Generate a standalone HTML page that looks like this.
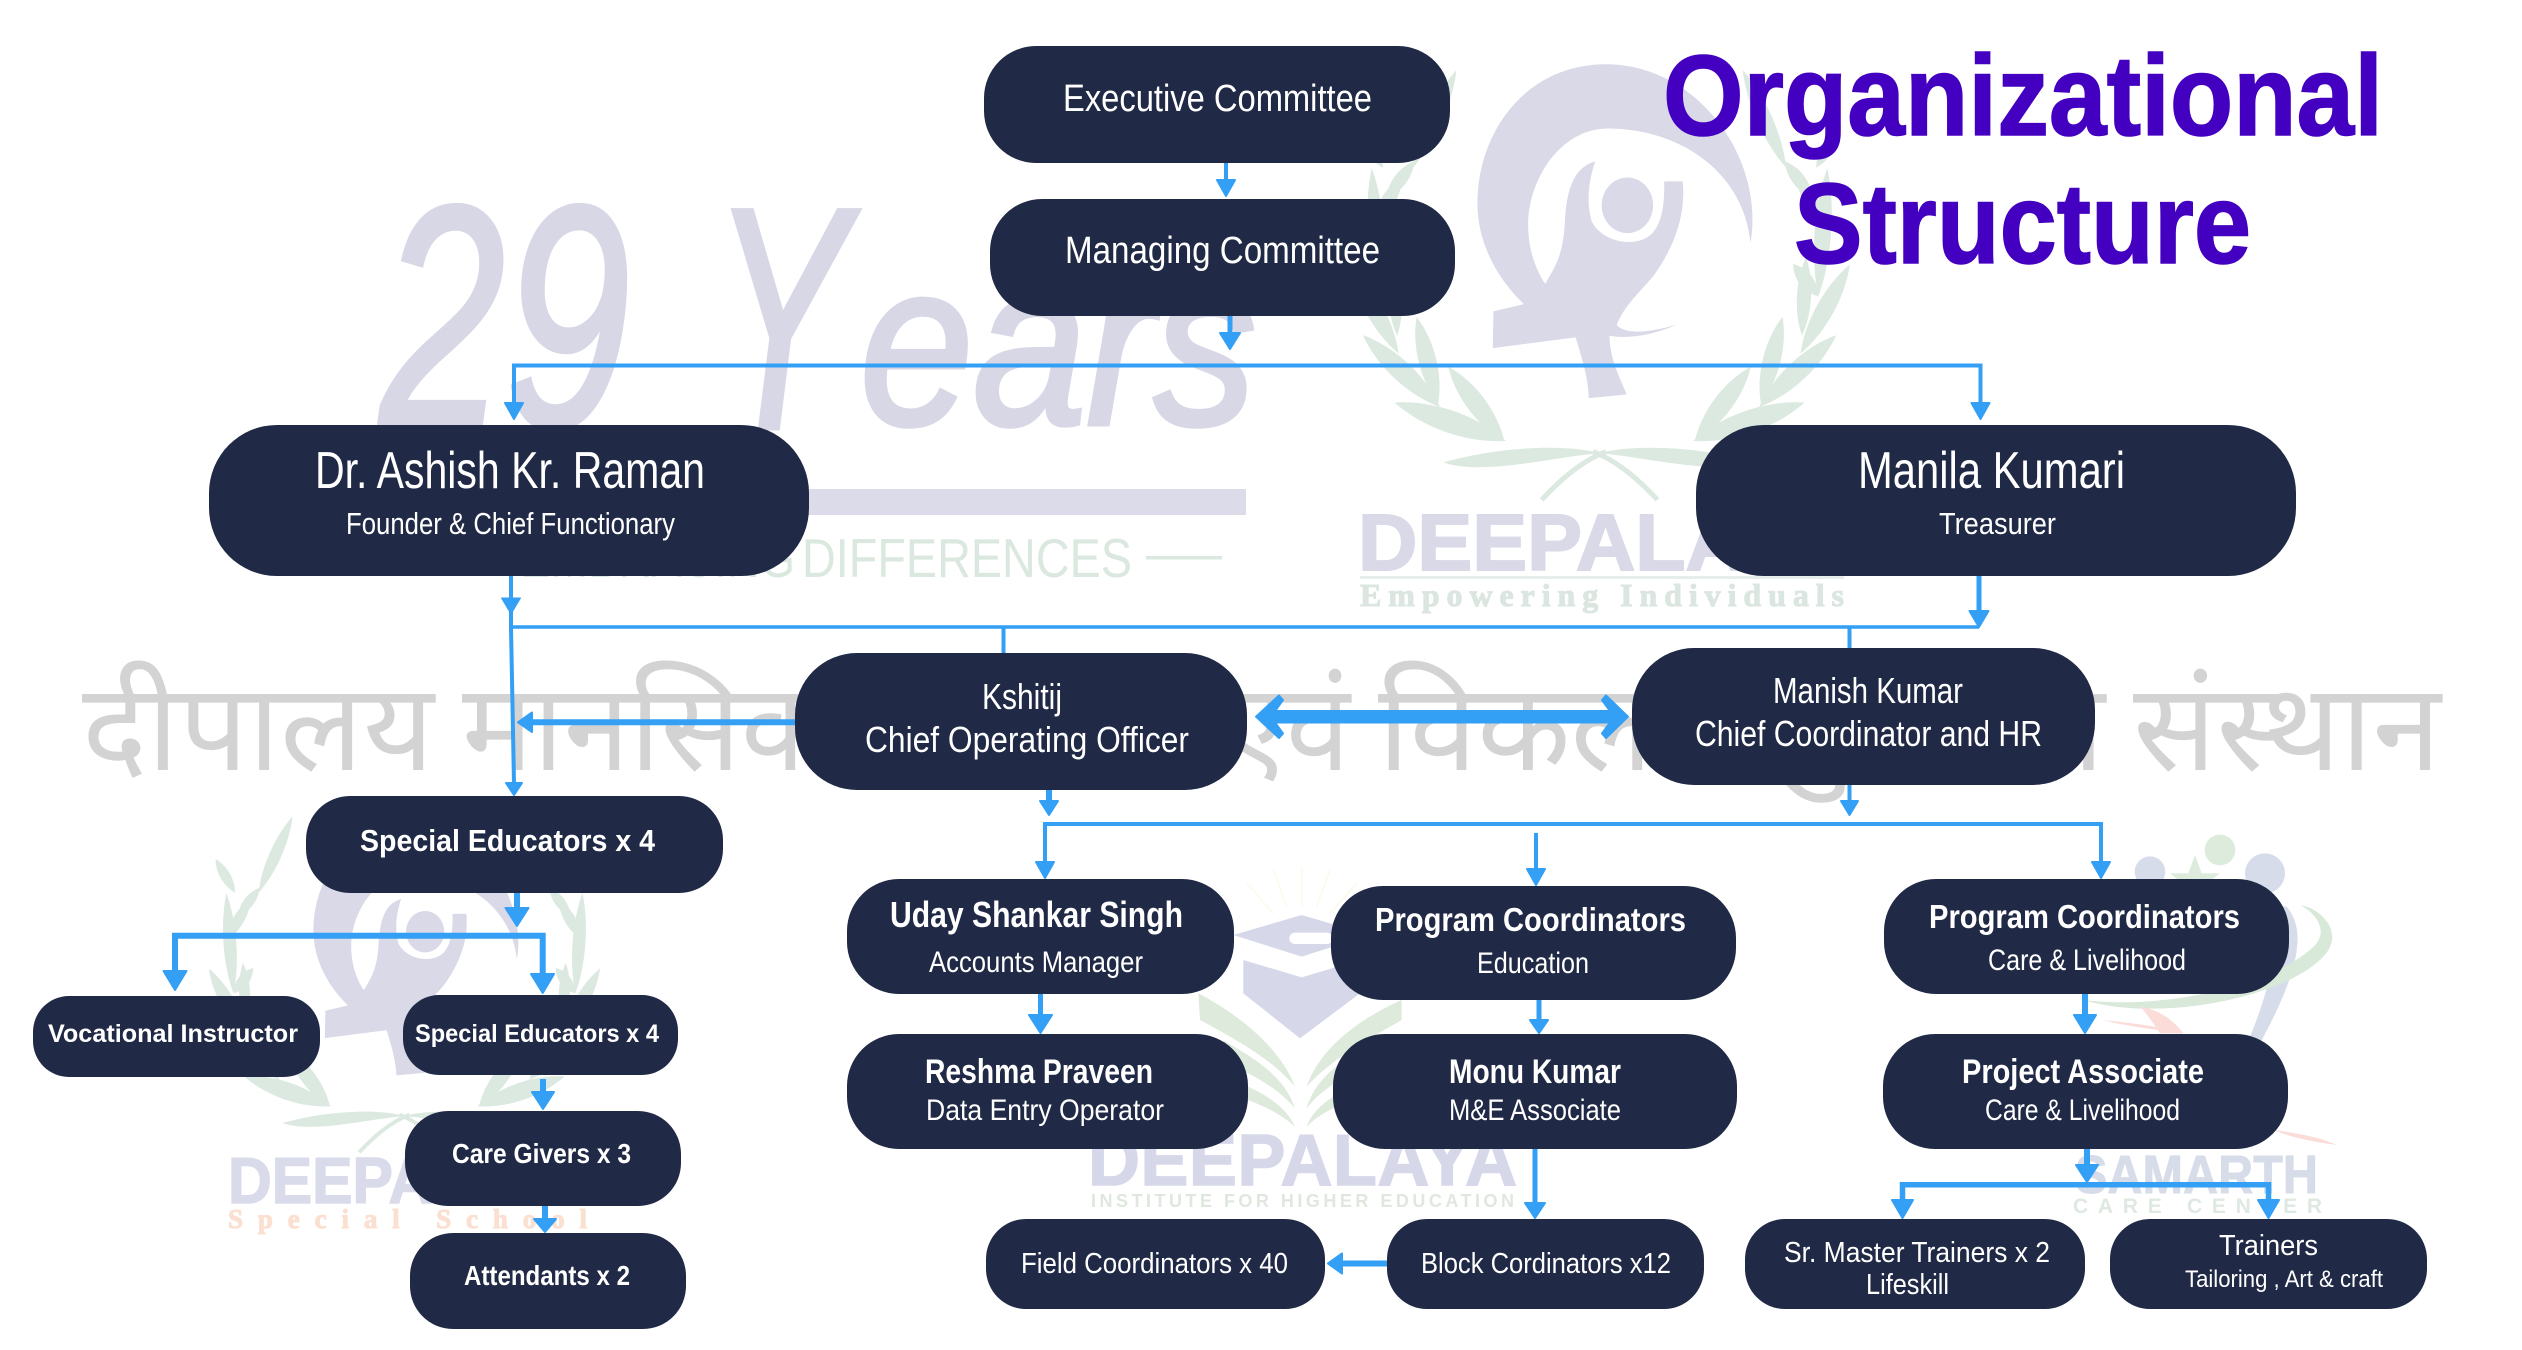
<!DOCTYPE html>
<html><head><meta charset="utf-8"><title>Organizational Structure</title>
<style>
html,body{margin:0;padding:0;background:#fff;width:2522px;height:1350px;overflow:hidden}
svg{display:block}
text{font-family:"Liberation Sans",sans-serif;fill:#fff}
.b{font-weight:700}
.n{fill:#202945}
.l{fill:none;stroke:#339ff5;stroke-width:4}
.h{fill:#339ff5;stroke:#339ff5;stroke-width:2;stroke-linejoin:round}
.lav{fill:#d9d9e8}
.grn{fill:#dbe9e0}
.hin{font-family:"Liberation Sans","Noto Sans Devanagari","Lohit Devanagari","Noto Sans CJK SC",sans-serif;fill:#d3d3d3;font-size:122px}
.yr{font-style:italic;fill:#d8d7e6;stroke:#d8d7e6;stroke-width:5}
</style></head><body>
<svg width="2522" height="1350" viewBox="0 0 2522 1350" xmlns="http://www.w3.org/2000/svg">
<defs>
<path id="lf" d="M0 0C-22-30-22-70 0-100C22-70 22-30 0 0Z"/>
<g id="ribbon">
<path class="lav" d="M1150 540C1190 300 1000 40 745 40C520 40 385 230 385 430C385 540 440 640 515 712L430 732L428 835L660 805C680 870 695 920 697 975L803 965C780 910 755 860 755 800C800 810 880 800 945 768C880 790 800 800 775 770C800 710 840 680 880 630C930 560 970 470 960 368L908 368C910 440 900 510 850 530C800 550 730 530 705 480C690 430 695 370 715 312C650 330 635 400 630 480C625 580 600 610 575 655C550 620 527 560 527 490C527 360 620 220 750 220C950 220 1130 340 1150 540Z"/>
<ellipse class="lav" cx="805" cy="435" rx="72" ry="78"/>
</g>
<g id="halfwreath" class="grn">
<use href="#lf" transform="translate(465 1095) rotate(-71) scale(1.9 3.3)"/>
<use href="#lf" transform="translate(460 1095) rotate(-37) scale(1.6 2.6)"/>
<use href="#lf" transform="translate(280 1000) rotate(-47) scale(1.7 2.95)"/>
<use href="#lf" transform="translate(275 990) rotate(-14) scale(1.5 2.5)"/>
<use href="#lf" transform="translate(164 850) rotate(-29) scale(1.5 2.85)"/>
<use href="#lf" transform="translate(160 800) rotate(-3) scale(1.2 2.2)"/>
<use href="#lf" transform="translate(114 690) rotate(-4) scale(1.4 3.6)"/>
<use href="#lf" transform="translate(114 690) rotate(38) scale(1.2 1.15)"/>
<use href="#lf" transform="translate(130 415) rotate(37) scale(1.1 1.3)"/>
<use href="#lf" transform="translate(204 330) rotate(24) scale(1.3 3)"/>
<use href="#lf" transform="translate(120 330) rotate(-30) scale(1.1 1.4)"/>
<use href="#lf" transform="translate(90 500) rotate(30) scale(1.2 1.7)"/>
<path d="M290 1155C400 1195 620 1135 730 1130C620 1100 430 1115 290 1155Z"/>
<path d="M565 1260C620 1200 680 1150 745 1125" fill="none" stroke="#dbe9e0" stroke-width="14"/>
</g>
<g id="wreath">
<use href="#halfwreath"/>
<use href="#halfwreath" transform="translate(1454 0) scale(-1 1)"/>
</g>
</defs>

<!-- watermarks -->
<text class="yr" font-size="316"><tspan x="380" y="426" textLength="250" lengthAdjust="spacingAndGlyphs">29</tspan> <tspan x="712" y="428" textLength="135" lengthAdjust="spacingAndGlyphs">Y</tspan><tspan x="860" y="424" font-size="232" textLength="396" lengthAdjust="spacingAndGlyphs">ears</tspan></text>
<rect x="804" y="489" width="442" height="26" fill="#dcdbe9"/>
<text x="802" y="577" font-size="55" textLength="330" lengthAdjust="spacingAndGlyphs" style="fill:#dbe8df">DIFFERENCES</text>
<text x="520" y="577" font-size="55" textLength="275" lengthAdjust="spacingAndGlyphs" style="fill:#dbe8df">EMBRACING</text>
<rect x="1146" y="556" width="76" height="3.5" fill="#dbe8df"/>

<use href="#wreath" transform="translate(1340 50) scale(.357)"/>
<use href="#ribbon" transform="translate(1340 50) scale(.357)"/>
<text x="1358" y="570" font-size="80" class="b" textLength="486" lengthAdjust="spacingAndGlyphs" style="fill:#d9d9e8;stroke:#d9d9e8;stroke-width:2">DEEPALAYA</text>
<rect x="1360" y="576" width="484" height="3" fill="#e6eeea"/>
<text x="1360" y="606" font-size="32" class="b" textLength="484" lengthAdjust="spacing" style='font-family:"Liberation Serif",serif;fill:#dbe6e0;stroke:#dbe6e0;stroke-width:1'>Empowering Individuals</text>

<text class="hin" x="82" y="770" textLength="352" lengthAdjust="spacingAndGlyphs">दीपालय</text>
<text class="hin" x="462" y="770" textLength="370" lengthAdjust="spacingAndGlyphs">मानसिक</text>
<text class="hin" x="1222" y="770" textLength="128" lengthAdjust="spacingAndGlyphs">एवं</text>
<text class="hin" x="1378" y="770" textLength="375" lengthAdjust="spacingAndGlyphs">विकलांग</text>
<text class="hin" x="1770" y="770" textLength="335" lengthAdjust="spacingAndGlyphs">पुनर्वास</text>
<text class="hin" x="2133" y="770" textLength="308" lengthAdjust="spacingAndGlyphs">संस्थान</text>

<use href="#wreath" transform="translate(201.6 800.8) scale(.279)"/>
<use href="#ribbon" transform="translate(211 816) scale(.266)"/>
<text x="228" y="1203" font-size="65" class="b" textLength="358" lengthAdjust="spacingAndGlyphs" style="fill:#dadbea;stroke:#dadbea;stroke-width:1.500">DEEPALAYA</text>
<text x="228" y="1228" font-size="27" class="b" textLength="359" lengthAdjust="spacing" style='font-family:"Liberation Serif",serif;fill:#fbe0d1;stroke:#fbe0d1;stroke-width:1'>Special School</text>

<!-- higher education logo -->
<g transform="translate(1180 860) scale(.3333)">
<g stroke="#fbfbea" stroke-width="5" fill="none"><path d="M365 140V20M320 140L280 30M410 140L450 30M280 160L200 70M450 160L530 70"/></g>
<path d="M160 225L365 165L570 225L365 290Z" fill="#d6d8ea"/>
<path d="M190 300L365 352L540 300V400L360 535L190 400Z" fill="#d6d8ea"/>
<rect x="328" y="218" width="130" height="34" rx="17" fill="#fff"/>
<path d="M55 400C170 460 300 560 345 680C280 600 170 540 60 480Z" fill="#deeadc"/>
<path d="M665 420C550 470 420 560 380 680C450 600 560 540 665 480Z" fill="#deeadc"/>
<path d="M130 540C210 590 310 640 345 745C290 680 210 640 140 610ZM130 650C210 680 310 720 345 800C290 750 210 720 140 700Z" fill="#deeadc"/>
<path d="M590 540C510 590 410 640 380 745C430 680 510 640 580 610ZM590 650C510 680 410 720 380 800C430 750 510 720 580 700Z" fill="#deeadc"/>
</g>
<text x="1088" y="1185" font-size="72" class="b" textLength="429" lengthAdjust="spacing" style="fill:#d6d8ea;stroke:#d6d8ea;stroke-width:1.500">DEEPALAYA</text>
<text x="1091" y="1207" font-size="18" class="b" textLength="423" lengthAdjust="spacing" style="fill:#dfe7de">INSTITUTE FOR HIGHER EDUCATION</text>

<!-- samarth logo -->
<g transform="translate(2060 830) scale(.3333)">
<circle cx="480" cy="60" r="46" fill="#dcebdc"/>
<path d="M405 75L425 130H480L435 165H375L330 130H385Z" fill="#dcebdc"/>
<circle cx="270" cy="125" r="46" fill="#d6dce9"/>
<circle cx="615" cy="130" r="60" fill="#d6dce9"/>
<path d="M680 230C740 300 720 420 600 640L570 620C620 500 660 360 640 230Z" fill="#d6dce9"/>
<path d="M720 225C800 240 850 320 790 380C680 500 300 580 70 510C300 540 650 470 770 340C800 300 770 250 720 225Z" fill="#d9e9d9"/>
<path d="M130 570C220 580 310 590 370 610C300 600 200 590 130 570ZM640 900C720 910 790 925 830 945C760 935 700 925 640 900Z" fill="#fbdcd8"/>
<path d="M240 530C300 540 340 570 370 610L300 610C280 580 260 550 240 530Z" fill="#fbdcd8"/>
</g>
<text x="2075" y="1193" font-size="54" class="b" textLength="243" lengthAdjust="spacingAndGlyphs" style="fill:#d7dce9;stroke:#d7dce9;stroke-width:1">SAMARTH</text>
<text x="2073" y="1213" font-size="21" class="b" textLength="249" lengthAdjust="spacing" style="fill:#dfe9e1">CARE CENTER</text>

<!-- title -->
<text x="1663" y="135" font-size="114" class="b" textLength="720" lengthAdjust="spacingAndGlyphs" style="fill:#4400c0;stroke:#4400c0;stroke-width:1.500">Organizational</text>
<text x="1794" y="263" font-size="114" class="b" textLength="457" lengthAdjust="spacingAndGlyphs" style="fill:#4400c0;stroke:#4400c0;stroke-width:1.500">Structure</text>

<!-- connectors -->
<path class="l" d="M1226 163V182"/><path class="h" d="M1217 180H1235L1226 196Z"/>
<path class="l" style="stroke-width:5" d="M1230 315V335"/><path class="h" d="M1220 333H1240L1230 349Z"/>
<path class="l" d="M514 405V365.5H1980.5V405"/>
<path class="h" d="M505 403H523L514 419Z"/><path class="h" d="M1971.500 403H1989.500L1980.5 419Z"/>
<path class="l" d="M511 575V627L514 784"/>
<path class="h" style="stroke-width:1" d="M501.500 598H520.500L511 614Z"/><path class="h" d="M506 783H522L514 795Z"/>
<path class="l" style="stroke-width:3.500" d="M511 627H1979"/>
<path class="l" style="stroke-width:5" d="M1979 575V612"/><path class="h" d="M1969.500 611H1988.500L1979 627Z"/>
<path class="l" d="M1003.500 627V655M1849.500 627V650"/>
<path class="l" style="stroke-width:6" d="M532 722.300H797"/><path class="h" d="M532 712.500V732L518 722.300Z"/>
<path class="h" d="M1256 716.700L1279 695.500L1283 700L1275 711H1610L1602 700L1606 695.500L1628 716.700L1606 738L1602 733.500L1610 722.500H1275L1283 733.500L1279 738Z"/>
<path class="l" style="stroke-width:6" d="M1049 789V802"/><path class="h" d="M1040 801H1058L1049 815Z"/>
<path class="l" style="stroke-width:4" d="M1849.500 785V802"/><path class="h" d="M1841 801H1858L1849.500 815Z"/>
<path class="l" d="M1045 865V824H2101V865"/>
<path class="h" d="M1036 862H1054L1045 878Z"/><path class="h" d="M2092 862H2110L2101 878Z"/>
<path class="l" d="M1536 833V870"/><path class="h" d="M1527 869H1545L1536 885Z"/>
<path class="l" style="stroke-width:6" d="M517 892V909"/><path class="h" d="M505.500 908H528.500L517 926Z"/>
<path class="l" style="stroke-width:6" d="M175 975V935.700H542.700V978"/>
<path class="h" d="M163.500 971H186.500L175 990Z"/><path class="h" d="M531 974H554L542.700 993Z"/>
<path class="l" style="stroke-width:6" d="M543 1079V1093"/><path class="h" d="M532 1092H554L543 1109Z"/>
<path class="l" style="stroke-width:6" d="M545 1206V1220"/><path class="h" d="M534 1219H556L545 1232Z"/>
<path class="l" style="stroke-width:5" d="M1040.500 993V1016"/><path class="h" d="M1029 1015H1052L1040.500 1033Z"/>
<path class="l" style="stroke-width:5" d="M1539 1000V1021"/><path class="h" d="M1530 1020H1548L1539 1033Z"/>
<path class="l" style="stroke-width:5" d="M1535 1148V1204"/><path class="h" d="M1525 1203H1545L1535 1218Z"/>
<path class="l" style="stroke-width:6" d="M1387 1263.500H1340"/><path class="h" d="M1342 1253.500V1273.500L1328 1263.500Z"/>
<path class="l" style="stroke-width:6" d="M2085 993V1016"/><path class="h" d="M2074 1015H2096L2085 1033Z"/>
<path class="l" style="stroke-width:6" d="M2087 1148V1166"/><path class="h" d="M2076 1165H2098L2087 1182Z"/>
<path class="l" style="stroke-width:5.500" d="M1902.500 1205V1184.700H2268.500V1205"/>
<path class="h" d="M1892 1200H1913L1902.500 1218Z"/><path class="h" d="M2258 1200H2279L2268.500 1218Z"/>

<!-- nodes -->
<rect class="n" x="984" y="46" width="466" height="117" rx="52"/>
<rect class="n" x="990" y="199" width="465" height="117" rx="52"/>
<rect class="n" x="209" y="425" width="600" height="151" rx="68"/>
<rect class="n" x="1696" y="425" width="600" height="151" rx="68"/>
<rect class="n" x="795" y="653" width="452" height="137" rx="62"/>
<rect class="n" x="1632" y="648" width="463" height="137" rx="62"/>
<rect class="n" x="306" y="796" width="417" height="97" rx="44"/>
<rect class="n" x="33" y="996" width="287" height="81" rx="36"/>
<rect class="n" x="403" y="995" width="275" height="80" rx="36"/>
<rect class="n" x="405" y="1111" width="276" height="95" rx="43"/>
<rect class="n" x="410" y="1233" width="276" height="96" rx="43"/>
<rect class="n" x="847" y="879" width="387" height="115" rx="52"/>
<rect class="n" x="847" y="1034" width="401" height="115" rx="52"/>
<rect class="n" x="986" y="1219" width="339" height="90" rx="40"/>
<rect class="n" x="1387" y="1219" width="317" height="90" rx="40"/>
<rect class="n" x="1331" y="886" width="405" height="114" rx="52"/>
<rect class="n" x="1333" y="1034" width="404" height="115" rx="52"/>
<rect class="n" x="1884" y="879" width="405" height="115" rx="52"/>
<rect class="n" x="1883" y="1034" width="405" height="115" rx="52"/>
<rect class="n" x="1745" y="1219" width="340" height="90" rx="40"/>
<rect class="n" x="2110" y="1219" width="317" height="90" rx="40"/>

<!-- labels -->
<text x="1063" y="111" font-size="38" textLength="309" lengthAdjust="spacingAndGlyphs">Executive Committee</text>
<text x="1065" y="263" font-size="38" textLength="315" lengthAdjust="spacingAndGlyphs">Managing Committee</text>
<text x="315" y="488" font-size="52" textLength="390" lengthAdjust="spacingAndGlyphs">Dr. Ashish Kr. Raman</text>
<text x="346" y="534" font-size="31" textLength="329" lengthAdjust="spacingAndGlyphs">Founder &amp; Chief Functionary</text>
<text x="1858" y="488" font-size="52" textLength="267" lengthAdjust="spacingAndGlyphs">Manila Kumari</text>
<text x="1939" y="534" font-size="31" textLength="117" lengthAdjust="spacingAndGlyphs">Treasurer</text>
<text x="982" y="709" font-size="36" textLength="80" lengthAdjust="spacingAndGlyphs">Kshitij</text>
<text x="865" y="752" font-size="36" textLength="324" lengthAdjust="spacingAndGlyphs">Chief Operating Officer</text>
<text x="1773" y="703" font-size="36" textLength="190" lengthAdjust="spacingAndGlyphs">Manish Kumar</text>
<text x="1695" y="746" font-size="36" textLength="347" lengthAdjust="spacingAndGlyphs">Chief Coordinator and HR</text>
<text class="b" x="360" y="851" font-size="31" textLength="295" lengthAdjust="spacingAndGlyphs">Special Educators x 4</text>
<text class="b" x="48" y="1042" font-size="25" textLength="250" lengthAdjust="spacingAndGlyphs">Vocational Instructor</text>
<text class="b" x="415" y="1042" font-size="25" textLength="244" lengthAdjust="spacingAndGlyphs">Special Educators x 4</text>
<text class="b" x="452" y="1163" font-size="28" textLength="179" lengthAdjust="spacingAndGlyphs">Care Givers x 3</text>
<text class="b" x="464" y="1285" font-size="28" textLength="166" lengthAdjust="spacingAndGlyphs">Attendants x 2</text>
<text class="b" x="890" y="927" font-size="36" textLength="293" lengthAdjust="spacingAndGlyphs">Uday Shankar Singh</text>
<text x="929" y="972" font-size="30" textLength="214" lengthAdjust="spacingAndGlyphs">Accounts Manager</text>
<text class="b" x="925" y="1083" font-size="34" textLength="228" lengthAdjust="spacingAndGlyphs">Reshma Praveen</text>
<text x="926" y="1120" font-size="30" textLength="238" lengthAdjust="spacingAndGlyphs">Data Entry Operator</text>
<text x="1021" y="1273" font-size="29" textLength="267" lengthAdjust="spacingAndGlyphs">Field Coordinators x 40</text>
<text x="1421" y="1273" font-size="29" textLength="250" lengthAdjust="spacingAndGlyphs">Block Cordinators x12</text>
<text class="b" x="1375" y="931" font-size="33" textLength="311" lengthAdjust="spacingAndGlyphs">Program Coordinators</text>
<text x="1477" y="973" font-size="30" textLength="112" lengthAdjust="spacingAndGlyphs">Education</text>
<text class="b" x="1449" y="1083" font-size="34" textLength="172" lengthAdjust="spacingAndGlyphs">Monu Kumar</text>
<text x="1449" y="1120" font-size="30" textLength="172" lengthAdjust="spacingAndGlyphs">M&amp;E Associate</text>
<text class="b" x="1929" y="928" font-size="33" textLength="311" lengthAdjust="spacingAndGlyphs">Program Coordinators</text>
<text x="1988" y="970" font-size="30" textLength="198" lengthAdjust="spacingAndGlyphs">Care &amp; Livelihood</text>
<text class="b" x="1962" y="1083" font-size="34" textLength="242" lengthAdjust="spacingAndGlyphs">Project Associate</text>
<text x="1985" y="1120" font-size="30" textLength="195" lengthAdjust="spacingAndGlyphs">Care &amp; Livelihood</text>
<text x="1784" y="1262" font-size="29" textLength="266" lengthAdjust="spacingAndGlyphs">Sr. Master Trainers x 2</text>
<text x="1866" y="1294" font-size="29" textLength="83" lengthAdjust="spacingAndGlyphs">Lifeskill</text>
<text x="2219" y="1255" font-size="29" textLength="99" lengthAdjust="spacingAndGlyphs">Trainers</text>
<text x="2185" y="1287" font-size="24" textLength="198" lengthAdjust="spacingAndGlyphs">Tailoring , Art &amp; craft</text>
</svg>
</body></html>
